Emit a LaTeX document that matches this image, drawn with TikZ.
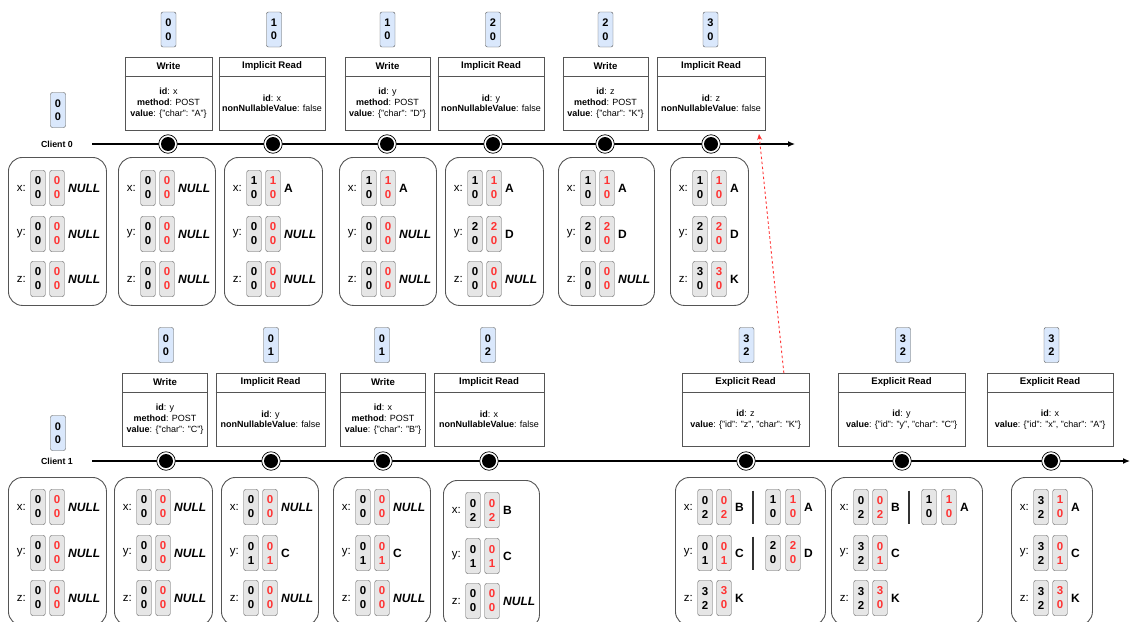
\documentclass[tikz,border=0pt]{standalone}
\usepackage{fontspec}
\setmainfont{Liberation Sans}
\usetikzlibrary{arrows.meta,calc}

\definecolor{tagred}{HTML}{FF3333}
\definecolor{vfill}{HTML}{DAE8FC}
\definecolor{sfill}{HTML}{E6E6E6}
\definecolor{edgegray}{HTML}{555555}

\tikzset{
  vtag/.style={draw=edgegray, fill=vfill, rounded corners=2pt, minimum width=15pt,
    minimum height=35pt, inner sep=0pt, align=center,
    font=\fontsize{11}{13.5}\selectfont\bfseries},
  stag/.style={draw=edgegray, fill=sfill, rounded corners=2pt, minimum width=14.5pt,
    minimum height=35pt, inner sep=0pt, align=center,
    font=\fontsize{11.5}{14}\selectfont\bfseries},
  slabel/.style={inner sep=0pt, font=\fontsize{11.5}{13}\selectfont},
  sval/.style={inner sep=0pt, font=\fontsize{12}{14}\selectfont\bfseries},
  sbox/.style={draw=edgegray, line width=0.9pt, rounded corners=14pt, minimum height=148pt,
    anchor=north west, inner sep=0pt},
  evbox/.style={draw=edgegray, line width=0.8pt, minimum height=73pt, inner sep=0pt},
  evline/.style={draw=edgegray, line width=0.8pt},
  evtitle/.style={inner sep=0pt, font=\fontsize{9.6}{11}\selectfont\bfseries},
  evbody/.style={inner sep=0pt, align=center, font=\fontsize{9}{10.8}\selectfont},
  clientlbl/.style={inner sep=0pt, font=\fontsize{8.8}{10}\selectfont\bfseries},
  timeline/.style={line width=1.3pt, -{Latex[length=7pt,width=6pt]}},
  marker/.style={circle, draw=black, line width=0.7pt, fill=white, minimum size=18.5pt,
    inner sep=0pt, path picture={\fill[black] (path picture bounding box.center) circle (7pt);}},
  rdash/.style={draw=tagred, line width=0.9pt, dash pattern=on 2.5pt off 2.5pt,
    -{Stealth[length=6pt,width=5pt]}},
  vbar/.style={draw=black!80, line width=1.6pt},
}

% one row of a state box: name, left edge, row y, key, own version, seen version, value
\newcommand\srow[7]{%
  \node[slabel, anchor=east] (#1-l) at ({#2+18},#3) {#4:};
  \node[stag] (#1-b) at ({#2+30},#3) {#5};
  \node[stag, text=tagred] (#1-r) at ({#2+49},#3) {#6};
  \node[sval, anchor=west] (#1-v) at ({#2+60},#3) {#7};
}
% a second version pair behind a bar: name, left edge, row y, own, seen, value
\newcommand\spair[6]{%
  \draw[vbar] ({#2+78},{#3-16.5}) -- ({#2+78},{#3+16.5});
  \node[stag] (#1-b2) at ({#2+98},#3) {#4};
  \node[stag, text=tagred] (#1-r2) at ({#2+118},#3) {#5};
  \node[sval, anchor=west] (#1-v2) at ({#2+129},#3) {#6};
}
% an operation box: name, centre x, top y, width, title, body
\newcommand\evnode[6]{%
  \node[evbox, minimum width=#4, anchor=north] (#1) at (#2,#3) {};
  \draw[evline] ($(#1.north west)+(0,19)$) -- ($(#1.north east)+(0,19)$);
  \node[evtitle] (#1-t) at ($(#1.north)+(0,9.5)$) {#5};
  \node[evbody] (#1-b) at ($(#1.south)+(0,-27.5)$) {#6};
}
\newcommand\nullv{\textit{NULL}}
\newcommand\kw[1]{\textbf{#1}}

\begin{document}
\begin{tikzpicture}[x=1pt,y=-1pt]
\useasboundingbox (0,0) rectangle (1131,621);
\fill[white] (0,0) rectangle (1131,621);
\clip (0,0) rectangle (1131,621);

% ---------------- Client 0 ----------------
\node[clientlbl] (c0) at (57,144) {Client 0};
\coordinate (t0s) at (92,144);
\coordinate (t0e) at (795,144);
\draw[timeline] (t0s) -- (t0e);

\node[vtag] (v0init) at (58,110) {0\\0};
\foreach \n/\x/\a/\b in {a/168.5/0/0, b/274/1/0, c/387.5/1/0, d/493/2/0, e/605.5/2/0, f/710.5/3/0}
  \node[vtag] (v0\n) at (\x,29.5) {\a\\\b};

\evnode{e0a}{168.5}{57}{87}{Write}{\kw{id}: x\\\kw{method}: POST\\\kw{value}: \{"char": "A"\}}
\evnode{e0b}{272}{57}{106}{Implicit Read}{\kw{id}: x\\\kw{nonNullableValue}: false}
\evnode{e0c}{387.5}{57}{85}{Write}{\kw{id}: y\\\kw{method}: POST\\\kw{value}: \{"char": "D"\}}
\evnode{e0d}{491}{57}{106}{Implicit Read}{\kw{id}: y\\\kw{nonNullableValue}: false}
\evnode{e0e}{605.5}{57}{85}{Write}{\kw{id}: z\\\kw{method}: POST\\\kw{value}: \{"char": "K"\}}
\evnode{e0f}{711}{57}{108}{Implicit Read}{\kw{id}: z\\\kw{nonNullableValue}: false}

\foreach \n/\x in {a/168, b/273, c/387, d/493, e/605, f/711}
  \node[marker] (m0\n) at (\x,144) {};

% states of client 0
\node[sbox, minimum width=98] (s0a) at (8,157) {};
\srow{s0ax}{8}{188}{x}{0\\0}{0\\0}{\nullv}
\srow{s0ay}{8}{234}{y}{0\\0}{0\\0}{\nullv}
\srow{s0az}{8}{279}{z}{0\\0}{0\\0}{\nullv}

\node[sbox, minimum width=97] (s0b) at (118,157) {};
\srow{s0bx}{118}{188}{x}{0\\0}{0\\0}{\nullv}
\srow{s0by}{118}{234}{y}{0\\0}{0\\0}{\nullv}
\srow{s0bz}{118}{279}{z}{0\\0}{0\\0}{\nullv}

\node[sbox, minimum width=98] (s0c) at (224,157) {};
\srow{s0cx}{224}{188}{x}{1\\0}{1\\0}{A}
\srow{s0cy}{224}{234}{y}{0\\0}{0\\0}{\nullv}
\srow{s0cz}{224}{279}{z}{0\\0}{0\\0}{\nullv}

\node[sbox, minimum width=97] (s0d) at (339,157) {};
\srow{s0dx}{339}{188}{x}{1\\0}{1\\0}{A}
\srow{s0dy}{339}{234}{y}{0\\0}{0\\0}{\nullv}
\srow{s0dz}{339}{279}{z}{0\\0}{0\\0}{\nullv}

\node[sbox, minimum width=98] (s0e) at (445,157) {};
\srow{s0ex}{445}{188}{x}{1\\0}{1\\0}{A}
\srow{s0ey}{445}{234}{y}{2\\0}{2\\0}{D}
\srow{s0ez}{445}{279}{z}{0\\0}{0\\0}{\nullv}

\node[sbox, minimum width=96] (s0f) at (558,157) {};
\srow{s0fx}{558}{188}{x}{1\\0}{1\\0}{A}
\srow{s0fy}{558}{234}{y}{2\\0}{2\\0}{D}
\srow{s0fz}{558}{279}{z}{0\\0}{0\\0}{\nullv}

\node[sbox, minimum width=78] (s0g) at (670,157) {};
\srow{s0gx}{670}{188}{x}{1\\0}{1\\0}{A}
\srow{s0gy}{670}{234}{y}{2\\0}{2\\0}{D}
\srow{s0gz}{670}{279}{z}{3\\0}{3\\0}{K}

% ---------------- Client 1 ----------------
\node[clientlbl] (c1) at (57,461) {Client 1};
\coordinate (t1s) at (92,461);
\coordinate (t1e) at (1130,461);
\draw[timeline] (t1s) -- (t1e);

\node[vtag] (v1init) at (58,433) {0\\0};
\foreach \n/\x/\a/\b in {a/166/0/0, b/271/0/1, c/382/0/1, d/488/0/2, e/746.5/3/2, f/903/3/2, g/1051.5/3/2}
  \node[vtag] (v1\n) at (\x,345) {\a\\\b};

\evnode{e1a}{165}{373}{85}{Write}{\kw{id}: y\\\kw{method}: POST\\\kw{value}: \{"char": "C"\}}
\evnode{e1b}{270.5}{373}{109}{Implicit Read}{\kw{id}: y\\\kw{nonNullableValue}: false}
\evnode{e1c}{383}{373}{85}{Write}{\kw{id}: x\\\kw{method}: POST\\\kw{value}: \{"char": "B"\}}
\evnode{e1d}{489}{373}{110}{Implicit Read}{\kw{id}: x\\\kw{nonNullableValue}: false}
\evnode{e1e}{745.5}{373}{127}{Explicit Read}{\kw{id}: z\\\kw{value}: \{"id": "z", "char": "K"\}}
\evnode{e1f}{901.5}{373}{127}{Explicit Read}{\kw{id}: y\\\kw{value}: \{"id": "y", "char": "C"\}}
\evnode{e1g}{1050}{373}{126}{Explicit Read}{\kw{id}: x\\\kw{value}: \{"id": "x", "char": "A"\}}

\foreach \n/\x in {a/166, b/271, c/383, d/489, e/746, f/902, g/1051}
  \node[marker] (m1\n) at (\x,461) {};

% states of client 1
\node[sbox, minimum width=98] (s1a) at (8,477) {};
\srow{s1ax}{8}{507}{x}{0\\0}{0\\0}{\nullv}
\srow{s1ay}{8}{553}{y}{0\\0}{0\\0}{\nullv}
\srow{s1az}{8}{598}{z}{0\\0}{0\\0}{\nullv}

\node[sbox, minimum width=98] (s1b) at (114,477) {};
\srow{s1bx}{114}{507}{x}{0\\0}{0\\0}{\nullv}
\srow{s1by}{114}{553}{y}{0\\0}{0\\0}{\nullv}
\srow{s1bz}{114}{598}{z}{0\\0}{0\\0}{\nullv}

\node[sbox, minimum width=97] (s1c) at (221,477) {};
\srow{s1cx}{221}{507}{x}{0\\0}{0\\0}{\nullv}
\srow{s1cy}{221}{553}{y}{0\\1}{0\\1}{C}
\srow{s1cz}{221}{598}{z}{0\\0}{0\\0}{\nullv}

\node[sbox, minimum width=97] (s1d) at (333,477) {};
\srow{s1dx}{333}{507}{x}{0\\0}{0\\0}{\nullv}
\srow{s1dy}{333}{553}{y}{0\\1}{0\\1}{C}
\srow{s1dz}{333}{598}{z}{0\\0}{0\\0}{\nullv}

\node[sbox, minimum width=96] (s1e) at (443,480) {};
\srow{s1ex}{443}{510}{x}{0\\2}{0\\2}{B}
\srow{s1ey}{443}{556}{y}{0\\1}{0\\1}{C}
\srow{s1ez}{443}{601}{z}{0\\0}{0\\0}{\nullv}

\node[sbox, minimum width=150] (s1f) at (675,477) {};
\srow{s1fx}{675}{507}{x}{0\\2}{0\\2}{B}
\spair{s1fx}{675}{507}{1\\0}{1\\0}{A}
\srow{s1fy}{675}{553}{y}{0\\1}{0\\1}{C}
\spair{s1fy}{675}{553}{2\\0}{2\\0}{D}
\srow{s1fz}{675}{598}{z}{3\\2}{3\\0}{K}

\node[sbox, minimum width=151] (s1g) at (831,477) {};
\srow{s1gx}{831}{507}{x}{0\\2}{0\\2}{B}
\spair{s1gx}{831}{507}{1\\0}{1\\0}{A}
\srow{s1gy}{831}{553}{y}{3\\2}{0\\1}{C}
\srow{s1gz}{831}{598}{z}{3\\2}{3\\0}{K}

\node[sbox, minimum width=81] (s1h) at (1011,477) {};
\srow{s1hx}{1011}{507}{x}{3\\2}{1\\0}{A}
\srow{s1hy}{1011}{553}{y}{3\\2}{0\\1}{C}
\srow{s1hz}{1011}{598}{z}{3\\2}{3\\0}{K}

% the explicit read of z sees the value written by client 0
\coordinate (rdtip) at (759,134);
\draw[rdash] ($(e1e.north west)!0.8!(e1e.north east)$) -- (rdtip);
\end{tikzpicture}
\end{document}
